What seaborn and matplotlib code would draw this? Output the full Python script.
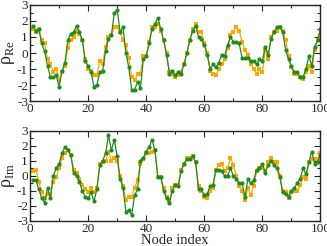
import matplotlib
matplotlib.use('Agg')
import matplotlib.pyplot as plt
import matplotlib.ticker as mticker
import seaborn as sns
import numpy as np

# node index
nodes = list(range(1, 101))

# real part
re_orange = [1.5, 1.3, 1.5, 0.8, 0.6, -0.4, -0.7, -1.2, -1.0, -1.7,
             -1.2, -0.8, 0.3, 0.8, 1.0, 1.4, 1.2, 0.8, -0.4, -1.0,
             -1.1, -1.4, -1.4, -0.5, -0.7, 0.4, 1.0, 1.1, 1.6, 1.6,
             1.3, 0.8, 0.5, -0.3, -1.5, -1.7, -1.3, -1.3, -0.2, -0.2,
             0.7, 1.6, 1.6, 1.8, 1.4, 0.8, 0.0, -1.2, -1.3, -1.5,
             -1.4, -1.2, -0.7, 0.0, 0.8, 1.5, 1.8, 1.3, 1.3, 0.6,
             0.0, -1.1, -1.3, -1.4, -1.0, -0.7, -0.4, 0.3, 1.1, 1.3,
             1.6, 1.4, 0.7, 0.2, -0.1, -0.7, -1.0, -1.3, -1.0, -1.2,
             0.2, -0.4, 1.0, 1.3, 1.4, 1.6, 1.4, 0.8, -0.2, -0.9,
             -1.3, -1.3, -1.5, -1.6, -1.2, -0.8, -1.2, 0.2, 0.8, 1.1]
re_green = [1.7, 1.4, 1.5, 0.6, 0.1, -0.8, -1.5, -1.5, -1.4, -2.1,
            -1.1, -0.6, 0.8, 1.2, 1.3, 1.7, 1.3, 0.8, -0.5, -0.8,
            -1.2, -2.1, -2.0, -1.2, -1.1, 0.1, 0.9, 1.1, 2.5, 2.7,
            1.3, 1.6, 0.0, -0.9, -2.3, -2.3, -1.8, -2.2, -0.4, -0.2,
            0.6, 1.5, 1.8, 2.2, 1.5, 0.8, -0.1, -1.3, -1.1, -1.4,
            -1.2, -1.3, -0.7, 0.0, 0.8, 1.4, 1.7, 1.0, 0.9, 0.5,
            -0.1, -1.0, -0.7, -0.9, -0.6, -0.1, -0.2, 0.5, 1.0, 0.7,
            0.7, 0.6, -0.3, -0.3, -0.3, -0.5, -0.5, -0.7, -0.4, -0.5,
            0.4, -0.1, 0.9, 1.3, 1.6, 1.6, 1.3, 0.2, -0.4, -0.8,
            -1.2, -1.2, -1.5, -1.5, -1.0, -0.2, -0.8, 0.4, 0.8, 1.5]

# imaginary part
im_orange = [0.3, 0.4, -0.4, -1.1, -1.5, -1.2, -1.2, -0.4, -0.1, 0.5,
             1.2, 1.5, 1.7, 1.4, 0.4, 0.2, -0.2, -0.6, -0.9, -1.1,
             -0.8, -1.1, -0.8, 0.8, 0.9, 1.0, 1.6, 1.0, 1.2, 1.0,
             0.0, -0.7, -1.6, -1.4, -1.4, -0.8, -0.3, 0.8, 1.1, 1.5,
             1.5, 1.6, 1.7, -0.1, -0.1, -0.8, -1.4, -1.7, -0.8, -0.6,
             -0.6, 0.4, 0.8, 1.2, 1.2, 1.3, 0.9, -0.7, -1.0, -1.4,
             -1.5, -1.0, -0.8, 0.4, 0.7, 0.8, 0.3, 0.5, 1.2, 0.7,
             0.0, -0.7, -1.0, -1.6, -0.8, -1.3, -0.7, 0.3, 0.5, 0.5,
             0.3, 0.9, 1.2, 0.9, 0.9, 0.0, -1.0, -1.1, -1.5, -1.1,
             -1.0, -1.0, -0.6, -0.1, -0.2, 0.9, 1.1, 1.1, 1.1, 1.5]
im_green = [-0.3, -0.3, -0.9, -1.5, -1.8, -0.8, -1.5, 0.0, 0.5, 0.8,
            1.5, 1.9, 1.7, 1.4, 0.2, 0.0, -0.4, -1.0, -1.4, -1.5,
            -1.1, -1.7, -0.9, 0.7, 1.0, 1.5, 2.7, 1.7, 2.4, 1.3,
            -0.2, -0.8, -2.4, -2.3, -2.6, -1.3, -0.9, 1.0, 1.2, 1.6,
            1.9, 2.4, 1.7, -0.1, -0.1, -1.0, -1.5, -1.8, -1.0, -0.6,
            -0.7, 0.3, 0.8, 1.1, 1.1, 1.3, 0.9, -0.9, -0.9, -1.3,
            -1.2, -0.7, -0.6, 0.4, 0.4, 0.3, 0.0, 0.0, 0.5, 0.0,
            -0.2, -0.5, -0.5, -1.4, -0.2, -0.5, -0.3, 0.4, 0.5, 0.8,
            0.2, 0.7, 1.0, 0.7, 0.5, -0.1, -1.1, -1.2, -1.4, -1.0,
            -0.8, -0.5, -0.2, 0.5, 0.1, 0.9, 1.6, 0.8, 0.9, 1.4]

sns.set_style('ticks')
plt.rcParams['font.family'] = ['Liberation Serif', 'DejaVu Serif']
plt.rcParams['mathtext.fontset'] = 'custom'
plt.rcParams['mathtext.rm'] = 'Liberation Serif'
plt.rcParams['axes.unicode_minus'] = False

ORANGE = '#ffa500'
GREEN = '#1e8c1e'

fig = plt.figure(figsize=(3.27, 2.46), dpi=100)
ax_re = fig.add_axes([0.092, 0.589, 0.888, 0.391])
ax_im = fig.add_axes([0.092, 0.102, 0.888, 0.367])

panels = [(ax_re, re_orange, re_green, 'ρ$_{\\mathrm{Re}}$'),
          (ax_im, im_orange, im_green, 'ρ$_{\\mathrm{Im}}$')]

for ax, orange, green, ylab in panels:
    sns.lineplot(x=nodes, y=orange, ax=ax, color=ORANGE, marker='s',
                 markersize=2.6, markeredgewidth=0, linewidth=0.9)
    sns.lineplot(x=nodes, y=green, ax=ax, color=GREEN, marker='o',
                 markersize=3.0, markeredgewidth=0, linewidth=0.9)
    ax.set_xlim(0, 100)
    ax.set_ylim(-3, 3)
    ax.xaxis.set_major_locator(mticker.MultipleLocator(20))
    ax.xaxis.set_minor_locator(mticker.MultipleLocator(10))
    ax.yaxis.set_major_locator(mticker.MultipleLocator(1))
    ax.yaxis.set_minor_locator(mticker.MultipleLocator(0.5))
    ax.tick_params(which='both', direction='in', top=True, right=True,
                   labelsize=9.5, pad=1.5, width=0.8)
    ax.tick_params(which='major', length=4)
    ax.tick_params(which='minor', length=2)
    for s in ax.spines.values():
        s.set_linewidth(1.0)
    ax.set_ylabel(ylab, fontsize=13, labelpad=0)
    ax.set_xlabel('')

ax_im.set_xlabel('Node index', fontsize=10.5, labelpad=-1)

fig.savefig('out.png', dpi=100)
